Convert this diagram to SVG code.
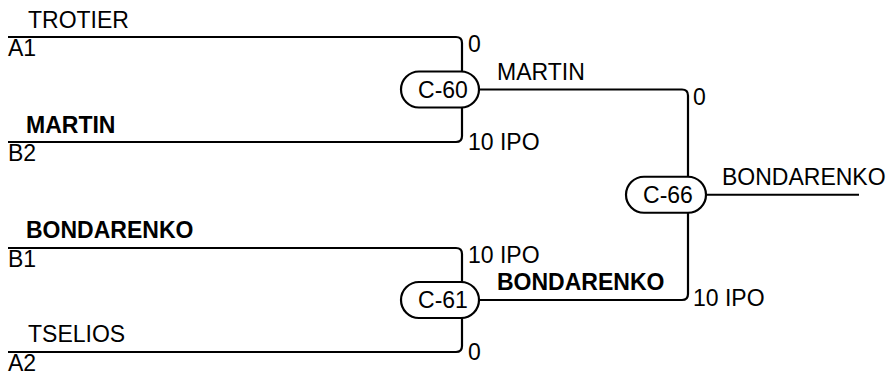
<svg xmlns="http://www.w3.org/2000/svg" width="889" height="375" viewBox="0 0 889 375">
<style>
text{font-family:"Liberation Sans",Arial,sans-serif;font-size:23px;fill:#000}
.b{font-weight:bold}
.ln{fill:none;stroke:#000;stroke-width:2.2}
.box{fill:#fff;stroke:#000;stroke-width:2.2}
.c{text-anchor:middle}
</style>
<rect width="889" height="375" fill="#fff"/>
<g id="connectors">
<path class="ln" d="M8,37 H456 Q462,37 462,43 V136 Q462,142 456,142 H8"/>
<path class="ln" d="M8,248 H456 Q462,248 462,254 V346 Q462,352 456,352 H8"/>
<path class="ln" d="M479,89.5 H682 Q688,89.5 688,95.5 V294 Q688,300 682,300 H479"/>
<path class="ln" d="M706,194.75 H859"/>
</g>
<g id="entrants">
<text x="28" y="28">TROTIER</text>
<text x="8" y="56">A1</text>
<text class="b" x="26" y="133">MARTIN</text>
<text x="8" y="161">B2</text>
<text class="b" x="26" y="238">BONDARENKO</text>
<text x="8" y="267">B1</text>
<text x="28" y="342">TSELIOS</text>
<text x="8" y="371">A2</text>
</g>
<g id="C-60">
<rect class="box" x="401" y="71.5" width="78" height="36" rx="18"/>
<text class="c" x="443" y="97.5">C-60</text>
<text x="468" y="52">0</text>
<text x="468" y="150">10 IPO</text>
<text x="497" y="80">MARTIN</text>
</g>
<g id="C-61">
<rect class="box" x="401" y="282" width="78" height="36" rx="18"/>
<text class="c" x="443" y="308">C-61</text>
<text x="468" y="263">10 IPO</text>
<text x="468" y="360">0</text>
<text class="b" x="497" y="290">BONDARENKO</text>
</g>
<g id="C-66">
<rect class="box" x="626" y="176.75" width="80" height="36" rx="18"/>
<text class="c" x="668" y="203">C-66</text>
<text x="693" y="105">0</text>
<text x="693" y="306">10 IPO</text>
<text x="722" y="185">BONDARENKO</text>
</g>
</svg>
